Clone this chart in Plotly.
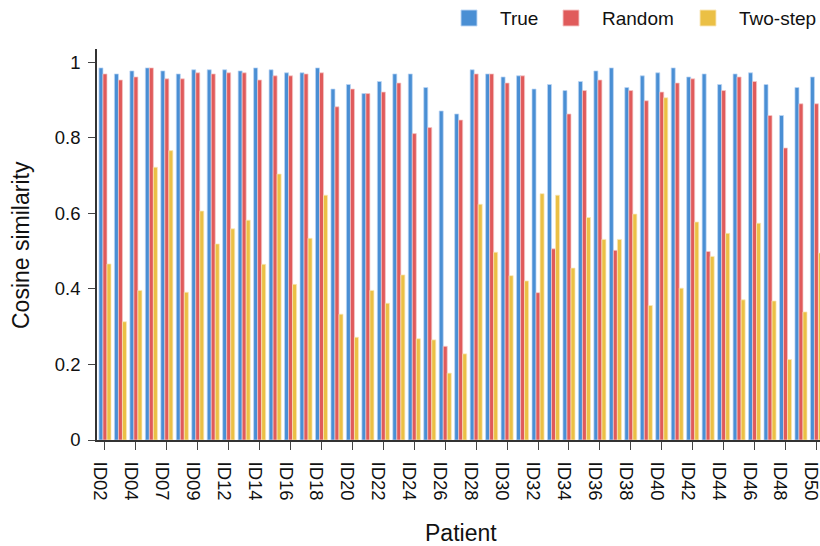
import plotly.graph_objects as go

# Patients shown on the x axis
patients = ["ID02", "ID03", "ID04", "ID05", "ID07", "ID08", "ID09", "ID10", "ID12", "ID13",
            "ID14", "ID15", "ID16", "ID17", "ID18", "ID19", "ID20", "ID21", "ID22", "ID23",
            "ID24", "ID25", "ID26", "ID27", "ID28", "ID29", "ID30", "ID31", "ID32", "ID33",
            "ID34", "ID35", "ID36", "ID37", "ID38", "ID39", "ID40", "ID41", "ID42", "ID43",
            "ID44", "ID45", "ID46", "ID47", "ID48", "ID49", "ID50"]

true_vals = [0.985, 0.969, 0.977, 0.985, 0.977, 0.969, 0.980, 0.980, 0.980, 0.977,
             0.985, 0.980, 0.972, 0.972, 0.985, 0.929, 0.941, 0.917, 0.949, 0.969,
             0.969, 0.933, 0.871, 0.863, 0.980, 0.969, 0.961, 0.964, 0.929, 0.941,
             0.925, 0.949, 0.977, 0.985, 0.933, 0.964, 0.972, 0.985, 0.961, 0.969,
             0.941, 0.969, 0.972, 0.941, 0.859, 0.933, 0.961]

random_vals = [0.969, 0.953, 0.961, 0.985, 0.956, 0.956, 0.972, 0.969, 0.972, 0.972,
               0.953, 0.964, 0.964, 0.969, 0.972, 0.882, 0.929, 0.917, 0.921, 0.945,
               0.811, 0.827, 0.248, 0.847, 0.969, 0.969, 0.945, 0.964, 0.390, 0.506,
               0.863, 0.925, 0.953, 0.502, 0.925, 0.898, 0.921, 0.945, 0.956, 0.499,
               0.925, 0.961, 0.949, 0.859, 0.773, 0.890, 0.890]

twostep_vals = [0.466, 0.313, 0.396, 0.722, 0.766, 0.391, 0.606, 0.519, 0.559, 0.582,
                0.465, 0.704, 0.412, 0.534, 0.648, 0.333, 0.272, 0.396, 0.362, 0.437,
                0.268, 0.265, 0.177, 0.228, 0.624, 0.497, 0.435, 0.421, 0.652, 0.648,
                0.455, 0.589, 0.531, 0.531, 0.598, 0.356, 0.906, 0.402, 0.577, 0.486,
                0.547, 0.371, 0.574, 0.368, 0.213, 0.339, 0.495]

y_ticks = [0, 0.2, 0.4, 0.6, 0.8, 1]
y_tick_text = ["0", "0.2", "0.4", "0.6", "0.8", "1"]

series = [
    ("True", true_vals, "#4a8fd4", "rgba(190,215,245,0.9)"),
    ("Random", random_vals, "#e05b5b", "rgba(245,200,200,0.9)"),
    ("Two-step", twostep_vals, "#ebc045", "rgba(250,232,185,0.9)"),
]

W, H = 820, 546
L, R, T, B = 97, 0, 49, 106
PW, PH = W - L - R, H - T - B
FONT = "Liberation Sans, Arial, sans-serif"


def px_x(x):
    return (x - L) / PW


def px_y(y):
    return (H - B - y) / PH


fig = go.Figure()
for name, vals, color, edge in series:
    fig.add_trace(go.Bar(
        x=list(range(len(patients))), y=vals, name=name,
        marker=dict(color=color, line=dict(color=edge, width=0.8)),
        showlegend=False,
    ))

fig.update_layout(
    width=W, height=H,
    margin=dict(l=L, r=R, t=T, b=B, autoexpand=False),
    paper_bgcolor="white", plot_bgcolor="white",
    barmode="group", bargap=0.22, bargroupgap=0,
    font=dict(family=FONT, color="#111", size=19),
    xaxis=dict(
        range=[-0.516, 46.23],
        tickmode="array",
        tickvals=list(range(0, len(patients), 2)),
        ticktext=patients[::2],
        tickangle=90,
        ticks="outside", ticklen=8, tickwidth=1.3, tickcolor="#444",
        showline=True, linecolor="#333", linewidth=1.6,
        showgrid=False, zeroline=False,
        tickfont=dict(size=18.5, family=FONT, color="#111"),
        ticklabelstandoff=8,
        ticklabelshift=-5,
        ticklabeloverflow="allow",
        automargin=False,
    ),
    yaxis=dict(
        range=[0, 1.035],
        tickmode="array", tickvals=y_ticks, ticktext=y_tick_text,
        ticks="outside", ticklen=7, tickwidth=1.3, tickcolor="#444",
        showline=True, linecolor="#333", linewidth=1.6,
        showgrid=False, zeroline=False,
        tickfont=dict(size=18.5, family=FONT, color="#111"),
        ticklabelstandoff=4,
        automargin=False,
    ),
)

annotations = [
    dict(text="Cosine similarity", x=px_x(21), y=px_y(245), xref="paper", yref="paper",
         xanchor="center", yanchor="middle", textangle=-90, showarrow=False,
         font=dict(size=23, family=FONT, color="#111")),
    dict(text="Patient", x=px_x(461), y=px_y(533), xref="paper", yref="paper",
         xanchor="center", yanchor="middle", showarrow=False,
         font=dict(size=23, family=FONT, color="#111")),
]

# Legend: coloured squares with labels along the top right
legend_pos = [461, 563, 700]
shapes = []
for (name, vals, color, edge), lx in zip(series, legend_pos):
    shapes.append(dict(type="rect", xref="paper", yref="paper",
                       x0=px_x(lx), x1=px_x(lx + 16), y0=px_y(26), y1=px_y(10),
                       fillcolor=color, line=dict(color=edge, width=1)))
    annotations.append(dict(text=name, x=px_x(lx + 37), y=px_y(18), xref="paper", yref="paper",
                            xanchor="left", yanchor="middle", showarrow=False,
                            font=dict(size=19, family=FONT, color="#111")))

fig.update_layout(annotations=annotations, shapes=shapes)
fig.write_html("out.html")
